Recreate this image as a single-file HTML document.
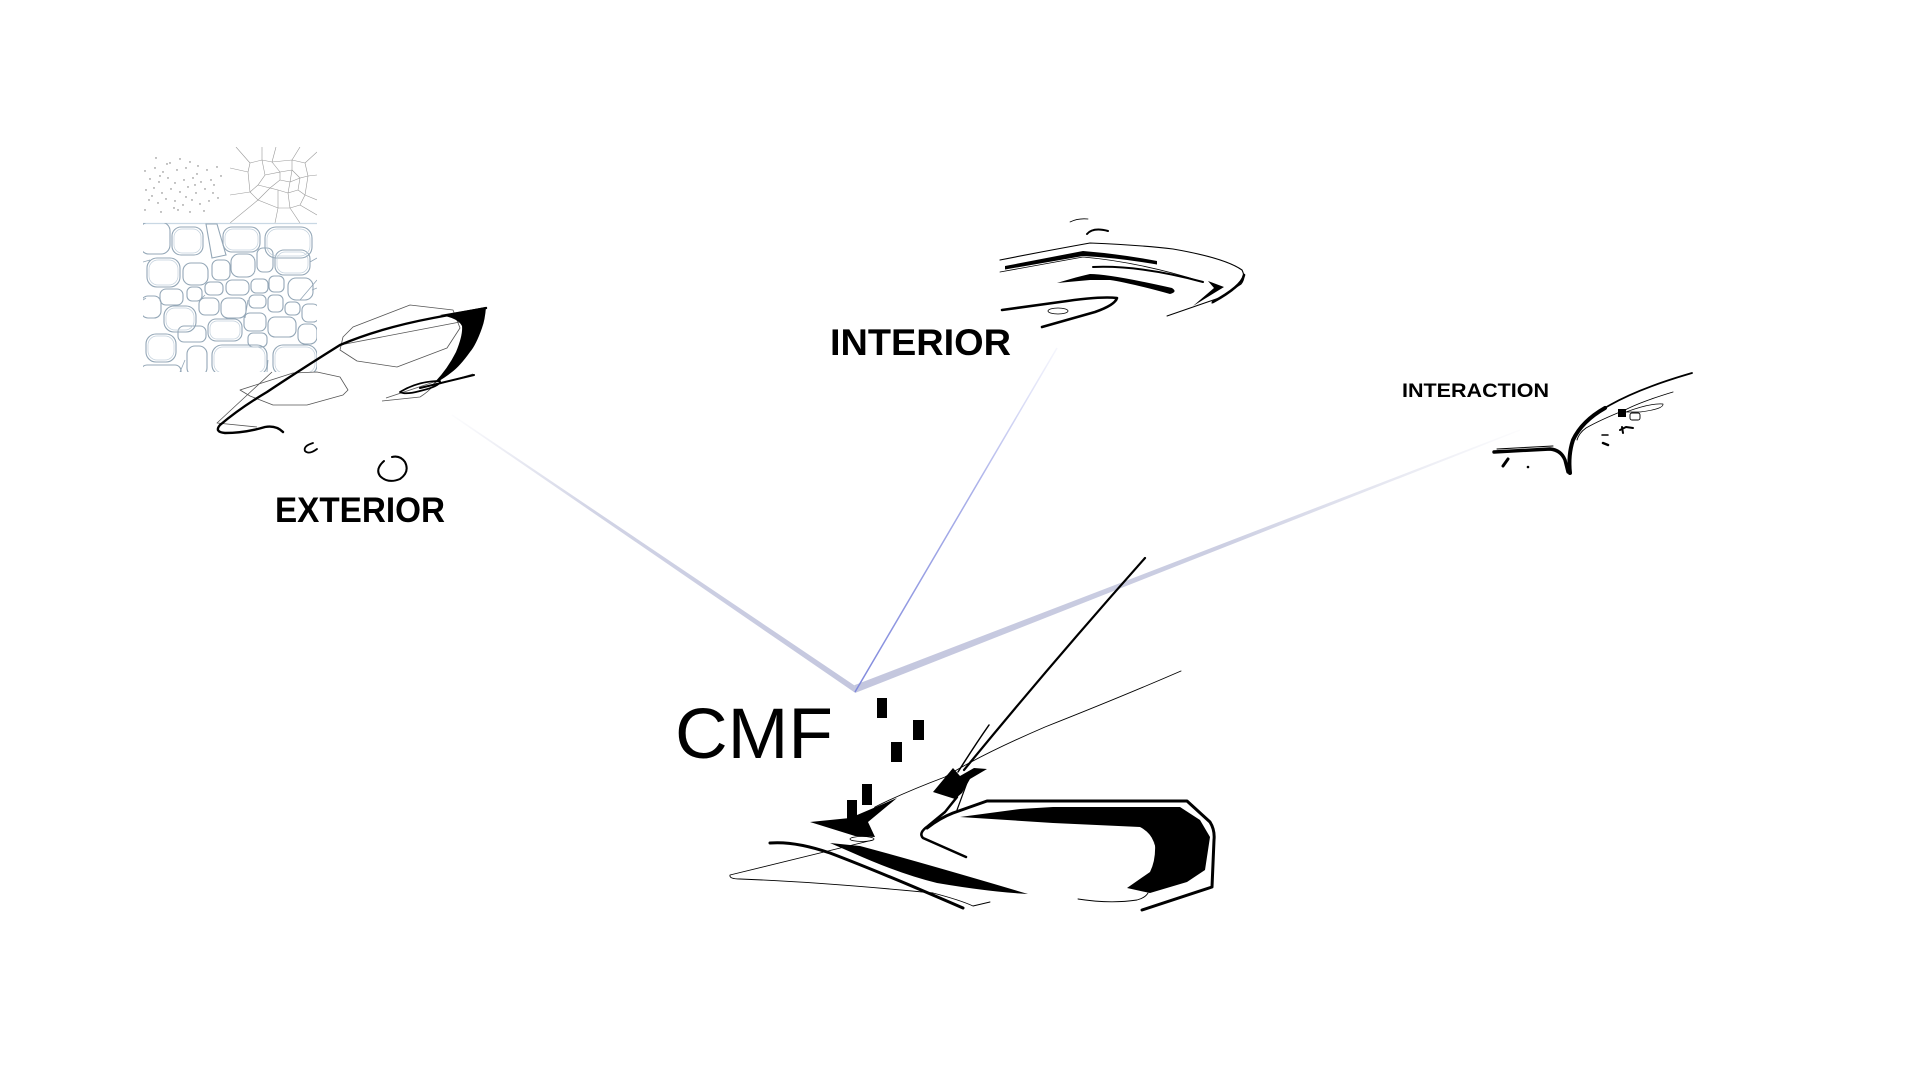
<!DOCTYPE html>
<html>
<head>
<meta charset="utf-8">
<style>
  html,body{margin:0;padding:0;background:#ffffff;}
  body{width:1920px;height:1080px;overflow:hidden;}
  svg{display:block;}
  .lbl{font-family:"Liberation Sans",Arial,sans-serif;font-weight:700;fill:#000;}
</style>
</head>
<body>
<svg width="1920" height="1080" viewBox="0 0 1920 1080" xmlns="http://www.w3.org/2000/svg">
  <defs>
    <linearGradient id="gL" gradientUnits="userSpaceOnUse" x1="452" y1="415" x2="855" y2="693">
      <stop offset="0" stop-color="#c6c9df" stop-opacity="0.05"/>
      <stop offset="0.35" stop-color="#c6c9df" stop-opacity="0.8"/>
      <stop offset="1" stop-color="#c3c6de" stop-opacity="1"/>
    </linearGradient>
    <linearGradient id="gR" gradientUnits="userSpaceOnUse" x1="855" y1="693" x2="1520" y2="430">
      <stop offset="0" stop-color="#c3c6de" stop-opacity="1"/>
      <stop offset="0.55" stop-color="#c6c9df" stop-opacity="0.9"/>
      <stop offset="1" stop-color="#c6c9df" stop-opacity="0.05"/>
    </linearGradient>
    <linearGradient id="gI" gradientUnits="userSpaceOnUse" x1="855" y1="693" x2="1057" y2="348">
      <stop offset="0" stop-color="#7f88dc" stop-opacity="1"/>
      <stop offset="0.6" stop-color="#8f97e2" stop-opacity="0.75"/>
      <stop offset="1" stop-color="#a0a7e8" stop-opacity="0.1"/>
    </linearGradient>
    <clipPath id="cellClip"><rect x="143" y="223" width="174" height="149"/></clipPath>
    <clipPath id="voroClip"><rect x="230" y="147" width="87" height="76"/></clipPath>
  </defs>

  <!-- ================= CONNECTORS ================= -->
  <polygon points="452.3,414.4 854.2,685.2 855.4,693 451.7,415.6" fill="url(#gL)"/>
  <polygon points="854.2,685.2 1519.8,429.4 1520.2,430.6 855,693" fill="url(#gR)"/>
  <line x1="855" y1="692" x2="1057" y2="348" stroke="url(#gI)" stroke-width="1.5"/>

  <!-- ================= EXTERIOR TEXTURES ================= -->
  <g fill="#6f6f6f">
    <circle cx="156" cy="158" r="0.7"/><circle cx="170" cy="163" r="0.7"/><circle cx="180" cy="159" r="0.7"/>
    <circle cx="190" cy="162" r="0.7"/><circle cx="145" cy="171" r="0.7"/><circle cx="155" cy="168" r="0.7"/>
    <circle cx="163" cy="172" r="0.7"/><circle cx="177" cy="170" r="0.7"/><circle cx="186" cy="168" r="0.7"/>
    <circle cx="198" cy="166" r="0.7"/><circle cx="207" cy="170" r="0.7"/><circle cx="217" cy="167" r="0.7"/>
    <circle cx="150" cy="179" r="0.7"/><circle cx="159" cy="182" r="0.7"/><circle cx="168" cy="178" r="0.7"/>
    <circle cx="175" cy="183" r="0.7"/><circle cx="184" cy="180" r="0.7"/><circle cx="193" cy="178" r="0.7"/>
    <circle cx="201" cy="182" r="0.7"/><circle cx="211" cy="180" r="0.7"/><circle cx="146" cy="190" r="0.7"/>
    <circle cx="154" cy="188" r="0.7"/><circle cx="162" cy="193" r="0.7"/><circle cx="171" cy="189" r="0.7"/>
    <circle cx="180" cy="192" r="0.7"/><circle cx="188" cy="187" r="0.7"/><circle cx="196" cy="193" r="0.7"/>
    <circle cx="205" cy="189" r="0.7"/><circle cx="213" cy="193" r="0.7"/><circle cx="149" cy="200" r="0.7"/>
    <circle cx="158" cy="203" r="0.7"/><circle cx="166" cy="199" r="0.7"/><circle cx="175" cy="201" r="0.7"/>
    <circle cx="183" cy="205" r="0.7"/><circle cx="192" cy="200" r="0.7"/><circle cx="200" cy="204" r="0.7"/>
    <circle cx="209" cy="201" r="0.7"/><circle cx="218" cy="198" r="0.7"/><circle cx="145" cy="210" r="0.7"/>
    <circle cx="161" cy="212" r="0.7"/><circle cx="178" cy="210" r="0.7"/><circle cx="190" cy="212" r="0.7"/>
    <circle cx="204" cy="211" r="0.7"/><circle cx="167" cy="164" r="0.7"/><circle cx="197" cy="174" r="0.7"/>
    <circle cx="152" cy="196" r="0.7"/><circle cx="186" cy="197" r="0.7"/><circle cx="214" cy="185" r="0.7"/>
    <circle cx="174" cy="208" r="0.7"/><circle cx="221" cy="176" r="0.7"/><circle cx="160" cy="176" r="0.7"/>
    <circle cx="195" cy="185" r="0.7"/>
  </g>

  <g clip-path="url(#voroClip)" fill="none" stroke="#9a9a9a" stroke-width="0.6">
    <path d="M230,168 L248,172 M236,147 L250,163 M262,147 L262,160 M276,147 L272,162 M300,147 L292,160 M317,152 L305,163 M317,175 L308,176 M317,200 L305,195 M317,215 L300,205 M300,223 L290,208 M275,223 L278,208 M230,223 L258,200 M230,195 L250,192"/>
    <path d="M248,172 L250,163 L262,160 L272,162 L292,160 L305,163 L308,176 L305,195 L300,205 L290,208 L278,208 L258,200 L250,192 Z"/>
    <path d="M262,160 L265,175 L258,185 L250,192 M265,175 L280,172 L272,162 M280,172 L292,170 L292,160 M292,170 L300,178 L308,176 M300,178 L298,190 L305,195 M298,190 L288,193 L290,208 M288,193 L278,190 L278,208 M278,190 L270,188 L258,200 M270,188 L258,185 M270,188 L280,180 L280,172 M280,180 L290,182 L292,170 M290,182 L288,193 M290,182 L300,178"/>
  </g>

  <line x1="143" y1="223.5" x2="317" y2="223.5" stroke="#c9d8e4" stroke-width="1.2"/>
  <g clip-path="url(#cellClip)" fill="none" stroke="#94a7b7" stroke-width="1.1">
    <rect x="140" y="222" width="30" height="32" rx="9"/>
    <rect x="172" y="227" width="31" height="28" rx="9"/>
    <path d="M206,224 L217,224 L226,255 L212,258 Z"/>
    <rect x="223" y="227" width="37" height="25" rx="9"/>
    <rect x="265" y="227" width="47" height="31" rx="11"/>
    <rect x="147" y="258" width="33" height="29" rx="10"/>
    <rect x="183" y="263" width="25" height="22" rx="8"/>
    <rect x="212" y="260" width="18" height="20" rx="6"/>
    <rect x="231" y="254" width="24" height="23" rx="8"/>
    <rect x="257" y="248" width="16" height="24" rx="6"/>
    <rect x="275" y="250" width="35" height="25" rx="9"/>
    <rect x="160" y="289" width="23" height="16" rx="6"/>
    <rect x="187" y="287" width="15" height="14" rx="5"/>
    <rect x="205" y="282" width="18" height="13" rx="5"/>
    <rect x="226" y="280" width="23" height="15" rx="6"/>
    <rect x="251" y="279" width="17" height="14" rx="5"/>
    <rect x="269" y="276" width="15" height="16" rx="5"/>
    <rect x="288" y="278" width="25" height="22" rx="8"/>
    <rect x="141" y="296" width="20" height="22" rx="7"/>
    <rect x="164" y="306" width="32" height="26" rx="10"/>
    <rect x="199" y="298" width="20" height="17" rx="6"/>
    <rect x="221" y="298" width="25" height="20" rx="7"/>
    <rect x="249" y="295" width="17" height="13" rx="5"/>
    <rect x="268" y="295" width="15" height="17" rx="5"/>
    <rect x="285" y="302" width="15" height="13" rx="5"/>
    <rect x="302" y="304" width="17" height="18" rx="6"/>
    <rect x="146" y="334" width="30" height="28" rx="10"/>
    <rect x="178" y="326" width="28" height="16" rx="6"/>
    <rect x="208" y="319" width="34" height="22" rx="8"/>
    <rect x="244" y="313" width="22" height="18" rx="6"/>
    <rect x="268" y="317" width="28" height="20" rx="7"/>
    <rect x="298" y="324" width="19" height="20" rx="7"/>
    <rect x="187" y="346" width="20" height="30" rx="8"/>
    <rect x="212" y="345" width="55" height="30" rx="10"/>
    <rect x="248" y="333" width="19" height="14" rx="5"/>
    <rect x="273" y="345" width="44" height="30" rx="10"/>
    <rect x="141" y="365" width="40" height="20" rx="6"/>
    <path d="M143,262 L150,260 M143,300 L146,298 M310,262 L317,258 M312,290 L317,288 M300,300 L317,280 M180,372 L185,360 M267,372 L268,360 M200,300 L205,295 M245,318 L248,300" stroke-width="0.8"/>
  </g>
  <g clip-path="url(#cellClip)" fill="none" stroke="#c2d0dc" stroke-width="0.7">
    <rect x="174" y="229" width="27" height="24" rx="8"/>
    <rect x="267" y="229" width="43" height="27" rx="10"/>
    <rect x="149" y="260" width="29" height="25" rx="9"/>
    <rect x="166" y="308" width="28" height="22" rx="9"/>
    <rect x="210" y="321" width="30" height="18" rx="7"/>
    <rect x="214" y="347" width="51" height="26" rx="9"/>
    <rect x="275" y="347" width="40" height="26" rx="9"/>
    <rect x="225" y="229" width="33" height="21" rx="8"/>
    <rect x="277" y="252" width="31" height="21" rx="8"/>
    <rect x="148" y="336" width="26" height="24" rx="9"/>
  </g>

  <!-- ================= EXTERIOR SKETCH ================= -->
  <g fill="none" stroke="#555" stroke-width="0.8" stroke-linejoin="round">
    <path d="M343,337 L353,327 L410,305 L453,310 L460,328 L447,348 L397,367 L357,361 L340,350 Z"/>
    <path d="M340,345 L460,322"/>
    <path d="M240,390 L293,373 L317,372 L340,377 L348,390 L343,395 L307,405 L273,405 L250,396 Z"/>
    <path d="M272,372 L217,423 L257,427"/>
    <path d="M382,401 L420,397 Q428,392 433,386 L473,374"/>
    <path d="M386,398 L440,380"/>
  </g>
  <g fill="none" stroke="#000" stroke-linecap="round" stroke-linejoin="round">
    <path d="M283,432 Q276,425 265,427 Q245,433 225,433 Q214,432 220,425 Q240,408 267,392 Q300,370 340,345 Q380,328 433,318 L486,308" stroke-width="2.4"/>
    <path d="M400,392 Q418,381 440,381 Q441,386 420,391 Q405,395 400,392 Z" stroke-width="1.8"/>
    <path d="M420,388 L474,375" stroke-width="2"/>
    <path d="M313,443 Q303,446 305,451 Q309,455 317,449" stroke-width="1.8"/>
    <path d="M384,461 Q375,469 380,476 Q388,484 400,479 Q410,472 405,462 Q400,455 392,457" stroke-width="2"/>
  </g>
  <path d="M440,315 L486,307 Q485,320 482,328 Q476,345 470,352 Q460,366 452,372 Q442,380 433,384 Q447,370 456,352 Q463,335 462,326 Q458,318 440,315 Z" fill="#000"/>

  <text class="lbl" x="275" y="522" font-size="35" textLength="170" lengthAdjust="spacingAndGlyphs">EXTERIOR</text>

  <!-- ================= INTERIOR SKETCH ================= -->
  <g fill="none" stroke="#000" stroke-linecap="round" stroke-linejoin="round">
    <path d="M1070,222 Q1078,218 1088,219" stroke-width="0.8"/>
    <path d="M1087,234 Q1093,227 1108,231" stroke-width="2"/>
    <path d="M1000,260 Q1040,252 1090,243 Q1140,245 1173,249 Q1225,258 1242,270 Q1246,278 1241,284 L1212,303" stroke-width="1.1"/>
    <path d="M1244,275 Q1242,286 1213,302" stroke-width="2.6"/>
    <path d="M1000,272 L1083,257 Q1140,262 1203,282" stroke-width="0.8"/>
    <path d="M1093,267 Q1140,265 1203,282" stroke-width="2"/>
    <path d="M1167,316 L1222,297" stroke-width="1"/>
    <path d="M1002,310 L1060,302 Q1100,296 1117,298 Q1115,305 1095,312 L1042,327" stroke-width="2.6"/>
    <ellipse cx="1058" cy="311" rx="10" ry="3" stroke-width="0.8"/>
  </g>
  <path d="M1005,266 L1083,251 Q1120,254 1157,261 L1157,264.5 Q1120,258 1083,256 L1005,269.5 Z" fill="#000"/>
  <path d="M1057,283 Q1080,276 1090,274 Q1110,274 1172,288 Q1178,292 1170,294 Q1130,283 1110,280 L1090,280 Z" fill="#000"/>
  <path d="M1208,281 L1224,287 L1193,306 L1214,288 Z" fill="#000"/>

  <text class="lbl" x="830" y="355" font-size="37" textLength="181" lengthAdjust="spacingAndGlyphs">INTERIOR</text>

  <!-- ================= INTERACTION SKETCH ================= -->
  <g fill="none" stroke="#000" stroke-linecap="round" stroke-linejoin="round">
    <path d="M1692,373 Q1640,388 1610,405 Q1582,420 1573,440 Q1568,455 1570,473" stroke-width="1.8"/>
    <path d="M1605,408 Q1582,421 1573,440 Q1568,455 1570,473" stroke-width="4"/>
    <path d="M1494,452 L1550,449 Q1561,450 1565,460 L1568,472" stroke-width="3.4"/>
    <path d="M1497,449 L1553,446" stroke-width="1"/>
    <path d="M1673,392 Q1640,402 1625,410 Q1600,420 1586,428 Q1579,433 1577,440" stroke-width="0.9"/>
    <path d="M1626,412 Q1650,403 1663,404 Q1664,409 1640,412 Z" stroke-width="0.7"/>
    <rect x="1630" y="413" width="10" height="7" rx="2" stroke-width="0.9"/>
    <path d="M1620,430 L1626,427 L1633,428 M1622,427 L1623,433" stroke-width="2"/>
    <path d="M1602,435 L1608,435" stroke-width="1.5"/>
    <path d="M1603,443 L1608,445" stroke-width="2.5"/>
    <path d="M1503,466 L1508,459" stroke-width="3"/>
  </g>
  <rect x="1618" y="409" width="8" height="8" fill="#000"/>
  <circle cx="1528" cy="467" r="1.3" fill="#000"/>

  <text class="lbl" x="1402" y="397" font-size="19.5" textLength="147" lengthAdjust="spacingAndGlyphs">INTERACTION</text>

  <!-- ================= CMF SKETCH ================= -->
  <text x="675" y="758" font-family="'Liberation Sans',Arial,sans-serif" font-size="71" fill="#000" textLength="158" lengthAdjust="spacingAndGlyphs">CMF</text>

  <g fill="#000">
    <rect x="877" y="698" width="10" height="20"/>
    <rect x="913" y="720" width="11" height="20"/>
    <rect x="891" y="742" width="11" height="20"/>
    <rect x="862" y="784" width="10" height="21"/>
    <rect x="847" y="800" width="10" height="22"/>
  </g>

  <g fill="none" stroke="#000" stroke-linecap="round" stroke-linejoin="round">
    <path d="M1145,558 Q1050,665 964,770" stroke-width="2.2"/>
    <path d="M989,725 Q975,745 958,772" stroke-width="1.5"/>
    <path d="M1181,671 Q1121,697 1045,727 Q980,755 945,777 Q905,792 875,807 L864,825" stroke-width="0.9"/>
    <path d="M957,797 L945,812 L928,826 Q918,833 923,838 L966,857" stroke-width="2.5"/>
    <path d="M968,780 L957,810" stroke-width="1.2"/>
    <ellipse cx="862" cy="839" rx="12" ry="2.5" stroke-width="0.8"/>
    <path d="M873,840 Q800,858 730,875 Q729,879 740,879 Q820,882 933,893 Q960,900 973,906 L990,902" stroke-width="0.9"/>
    <path d="M770,843 Q795,841 830,853 Q880,872 963,908" stroke-width="3"/>
    <path d="M927,828 Q940,818 953,813 L987,801 L1187,801 L1210,822 Q1215,830 1214,840 L1212,887 L1142,910" stroke-width="3"/>
    <path d="M1143,827 Q1160,840 1157,870" stroke-width="0.8"/>
    <path d="M1078,899 Q1110,904 1137,900 Q1145,898 1148,893" stroke-width="0.9"/>
  </g>
  <path d="M933,792 L953,768 L960,776 L974,768 L987,769 L970,779 L962,793 L955,799 Z" fill="#000"/>
  <path d="M810,822 L850,818 L897,798 L868,822 L875,837 L855,836 Z" fill="#000"/>
  <path d="M830,843 L860,846 Q920,862 1028,894 Q990,892 937,883 Q900,874 853,853 Z" fill="#000"/>
  <path d="M960,817 L1020,809 L1053,807 L1180,807 L1200,820 L1210,837 L1205,870 L1187,882 L1150,893 L1127,888 L1150,872 Q1156,860 1155,843 Q1150,832 1140,827 L1053,823 Z" fill="#000"/>
</svg>
</body>
</html>
